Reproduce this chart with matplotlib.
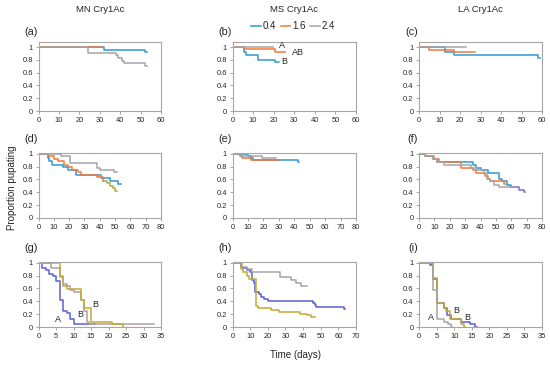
import matplotlib
matplotlib.use("Agg")
import matplotlib.pyplot as plt
from matplotlib.lines import Line2D

plt.rcParams['font.family'] = ['Liberation Sans', 'DejaVu Sans']

# ---------------- data ----------------
col_titles = ["MN Cry1Ac", "MS Cry1Ac", "LA Cry1Ac"]
panel_letters = ["(a)", "(b)", "(c)", "(d)", "(e)", "(f)", "(g)", "(h)", "(i)"]
doses = ["0.4", "1.6", "2.4"]
xmax = [60, 60, 60, 80, 80, 80, 35, 70, 35]
xstep = [10, 10, 10, 10, 10, 10, 5, 10, 5]
yticks = [0, 0.2, 0.4, 0.6, 0.8, 1.0]
ytick_labels = ["0", "0.2", "0.4", "0.6", "0.8", "1"]

# (a)
a04_t = [0, 32, 52]; a04_s = [1, 0.96, 0.93]; a04_end = 53
a16_t = [0]; a16_s = [1]; a16_end = 31
a24_t = [0, 24, 38, 39, 41, 42, 52]; a24_s = [1, 0.91, 0.87, 0.83, 0.79, 0.75, 0.71]; a24_end = 53
# (b)
b04_t = [0, 5.7, 6.8, 12.5, 20.6]; b04_s = [1, 0.93, 0.87, 0.80, 0.77]; b04_end = 22.5
b16_t = [0, 5.7, 20.6]; b16_s = [1, 0.97, 0.93]; b16_end = 25.5
b24_t = [0]; b24_s = [1]; b24_end = 19.5
b_labels = ["A", "AB", "B"]; b_lx = [23.8, 31.6, 25.3]; b_ly = [1.03, 0.92, 0.77]
# (c)
c04_t = [0, 12.8, 17, 58]; c04_s = [1, 0.92, 0.88, 0.83]; c04_end = 59.2
c16_t = [0, 5, 17]; c16_s = [1, 0.96, 0.92]; c16_end = 27.5
c24_t = [0]; c24_s = [1]; c24_end = 23
# (d)
d04_t = [0, 6, 7, 8.6, 16, 19, 24.3, 41, 47, 52]
d04_s = [1, 0.93, 0.88, 0.83, 0.79, 0.75, 0.67, 0.62, 0.57, 0.53]; d04_end = 54
d16_t = [0, 6, 10.4, 13, 16.5, 19, 22, 26, 28, 38, 42, 45, 47, 48.5, 50]
d16_s = [1, 0.96, 0.92, 0.88, 0.83, 0.79, 0.75, 0.71, 0.67, 0.63, 0.58, 0.54, 0.50, 0.46, 0.42]
d16_end = 51; d16_tail = 10
d24_t = [0, 14.4, 20.3, 38, 40, 49]; d24_s = [1, 0.96, 0.86, 0.78, 0.74, 0.71]; d24_end = 51
# (e)
e04_t = [0, 10, 12, 13, 42.5]; e04_s = [1, 0.96, 0.93, 0.90, 0.87]; e04_end = 43
e16_t = [0, 5, 6, 12]; e16_s = [1, 0.96, 0.93, 0.90]; e16_end = 30
e24_t = [0, 5, 19]; e24_s = [1, 0.97, 0.93]; e24_end = 28
# (f)
f04_t = [0, 4, 9, 12, 35, 37, 40, 45, 52, 54, 57, 60, 65, 68]
f04_s = [1, 0.96, 0.92, 0.87, 0.83, 0.78, 0.74, 0.70, 0.61, 0.57, 0.52, 0.48, 0.44, 0.40]
f04_end = 69; f04_tail = 11
f16_t = [0, 4, 10, 13, 27, 35, 37, 43, 45, 46, 55]
f16_s = [1, 0.96, 0.91, 0.87, 0.78, 0.74, 0.70, 0.65, 0.61, 0.57, 0.53]; f16_end = 56
f24_t = [0, 4, 9, 12, 16, 34, 38, 42, 44, 46, 49, 52]
f24_s = [1, 0.96, 0.91, 0.87, 0.82, 0.78, 0.74, 0.70, 0.61, 0.57, 0.52, 0.48]; f24_end = 60
# (g)
g04_t = [0, 1, 2, 3, 4, 5, 6, 7, 8, 9, 10]
g04_s = [1, 0.92, 0.88, 0.83, 0.79, 0.71, 0.42, 0.25, 0.21, 0.12, 0.04]; g04_end = 16
g16_t = [0, 6, 7, 8, 12, 13, 15, 21, 24]
g16_s = [1, 0.79, 0.63, 0.59, 0.42, 0.29, 0.08, 0.04, 0.0]; g16_end = 24
g24_t = [0, 3.7, 6, 7, 8, 9, 10, 12, 13, 13.8, 14.5]
g24_s = [1, 0.92, 0.78, 0.67, 0.63, 0.58, 0.55, 0.42, 0.25, 0.08, 0.04]; g24_end = 33
g_labels = ["A", "B", "B"]; g_lx = [5.6, 11.9, 16.2]; g_ly = [0.12, 0.20, 0.35]
# (h)
h04_t = [0, 5, 6, 8, 10, 11, 12, 13, 15, 16, 18, 20, 45.6, 46.5, 47.5, 63]
h04_s = [1, 0.93, 0.91, 0.89, 0.86, 0.73, 0.69, 0.55, 0.51, 0.46, 0.43, 0.41, 0.38, 0.34, 0.31, 0.28]
h04_end = 64
h16_t = [0, 5, 6, 8, 9.5, 13.3, 14.3, 22, 26.6, 38, 42, 44.7]
h16_s = [1, 0.90, 0.85, 0.80, 0.74, 0.33, 0.29, 0.26, 0.23, 0.20, 0.18, 0.16]; h16_end = 46.6
h24_t = [0, 5.5, 8, 11, 27, 33, 36, 39]
h24_s = [1, 0.93, 0.90, 0.86, 0.78, 0.73, 0.68, 0.63]; h24_end = 42
# (i)
i04_t = [0, 3.2, 4, 5, 7, 8, 9, 12, 14.6, 16]
i04_s = [1, 0.96, 0.75, 0.38, 0.29, 0.19, 0.12, 0.08, 0.04, 0.0]; i04_end = 16.5
i16_t = [0, 4.1, 5, 7, 7.7, 8.7, 12, 12.9]
i16_s = [1, 0.76, 0.38, 0.29, 0.25, 0.12, 0.04, 0.0]; i16_end = 13.2
i24_t = [0, 4, 5, 7, 8.3, 9]
i24_s = [1, 0.58, 0.12, 0.08, 0.04, 0.0]; i24_end = 9.3
i_labels = ["A", "B", "B"]; i_lx = [3.4, 10.5, 13.8]; i_ly = [0.14, 0.25, 0.14]

# ---------------- style ----------------
C_BLUE = "#2E9AD2"; C_ORANGE = "#F4763C"; C_GRAY = "#A5A5A5"
C_PURPLE = "#5A61D2"; C_OLIVE = "#C4A933"; C_MAUVE = "#B09CAA"
C_OLIVE_TAIL = "#B0AE36"; C_PURPLE_TAIL = "#7672C8"
SPINE = "#A6A6A6"; TXT = "#262626"

W, H = 550, 366
fig = plt.figure(figsize=(W / 100, H / 100), dpi=100)

col_px = [(38.5, 161), (232.5, 356), (419, 542)]
row_px = [(42, 111), (153, 218), (262, 327)]

def make_ax(r, c):
    l, rr = col_px[c]
    t, b = row_px[r]
    return fig.add_axes([l / W, 1 - b / H, (rr - l) / W, (b - t) / H])

def draw(ax, t, s, end, color, tail=None, tail_color=None, lw=1.1, z=2):
    x = list(t) + [end]
    y = list(s) + [s[-1]]
    if tail is None:
        ax.step(x, y, where="post", color=color, lw=lw, zorder=z)
    else:
        ax.step(x[:tail + 1], y[:tail + 1], where="post", color=color, lw=lw, zorder=z)
        ax.step(x[tail:], y[tail:], where="post", color=tail_color, lw=lw, zorder=z)

curves = [
    [(a04_t, a04_s, a04_end, C_BLUE), (a16_t, a16_s, a16_end, C_ORANGE), (a24_t, a24_s, a24_end, C_GRAY)],
    [(b04_t, b04_s, b04_end, C_BLUE), (b16_t, b16_s, b16_end, C_ORANGE), (b24_t, b24_s, b24_end, C_GRAY)],
    [(c04_t, c04_s, c04_end, C_BLUE), (c16_t, c16_s, c16_end, C_ORANGE), (c24_t, c24_s, c24_end, C_GRAY)],
    [(d04_t, d04_s, d04_end, C_BLUE), (d16_t, d16_s, d16_end, C_ORANGE, d16_tail, C_OLIVE_TAIL), (d24_t, d24_s, d24_end, C_GRAY)],
    [(e04_t, e04_s, e04_end, C_BLUE), (e16_t, e16_s, e16_end, C_ORANGE), (e24_t, e24_s, e24_end, C_GRAY)],
    [(f04_t, f04_s, f04_end, C_BLUE, f04_tail, C_PURPLE_TAIL), (f16_t, f16_s, f16_end, C_ORANGE), (f24_t, f24_s, f24_end, C_GRAY)],
    [(g04_t, g04_s, g04_end, C_PURPLE), (g24_t, g24_s, g24_end, C_MAUVE), (g16_t, g16_s, g16_end, C_OLIVE)],
    [(h04_t, h04_s, h04_end, C_PURPLE), (h16_t, h16_s, h16_end, C_OLIVE), (h24_t, h24_s, h24_end, C_GRAY)],
    [(i04_t, i04_s, i04_end, C_PURPLE), (i16_t, i16_s, i16_end, C_OLIVE), (i24_t, i24_s, i24_end, C_GRAY)],
]
letters = {1: (b_labels, b_lx, b_ly), 6: (g_labels, g_lx, g_ly), 8: (i_labels, i_lx, i_ly)}

for k in range(9):
    r, c = divmod(k, 3)
    ax = make_ax(r, c)
    for cv in curves[k]:
        if len(cv) == 6:
            draw(ax, cv[0], cv[1], cv[2], cv[3], tail=cv[4], tail_color=cv[5])
        else:
            draw(ax, cv[0], cv[1], cv[2], cv[3])
    ax.set_xlim(0, xmax[k])
    ax.set_ylim(0, 1.08 if r == 0 else 1.01)
    ax.set_xticks(list(range(0, xmax[k] + 1, xstep[k])))
    ax.set_yticks(yticks)
    ax.set_yticklabels(ytick_labels)
    for sp in ax.spines.values():
        sp.set_color(SPINE)
        sp.set_linewidth(0.8)
    ax.tick_params(axis="both", labelsize=5.4, colors=SPINE, labelcolor=TXT,
                   length=2.5, width=0.7, direction="out", pad=1.5)
    if k in letters:
        labs, lx, ly = letters[k]
        for s_, x_, y_ in zip(labs, lx, ly):
            ax.text(x_, y_, s_, fontsize=6.5, color=TXT, ha="center", va="center")
    # panel letter
    l, _ = col_px[c]
    top, _ = row_px[r]
    off = 10 if r == 0 else 14
    fig.text((l - 1) / W, 1 - (top - off) / H, panel_letters[k], fontsize=7.8,
             color=TXT, ha="right", va="center")

# column titles
for c in range(3):
    l, rr = col_px[c]
    fig.text((l + rr) / 2 / W, 1 - 10 / H, col_titles[c], fontsize=6.8, color=TXT,
             ha="center", va="center")

# legend
handles = [Line2D([], [], color=col, lw=1.1) for col in (C_BLUE, C_ORANGE, C_GRAY)]
fig.legend(handles, doses, loc="center", bbox_to_anchor=(293 / W, 1 - 26 / H),
           ncol=3, frameon=False, fontsize=7, handlelength=1.0, handletextpad=0.15,
           columnspacing=0.5, labelcolor=TXT, borderpad=0)

fig.text(12 / W, 1 - 188 / H, "Proportion pupating", rotation=90, fontsize=7,
         color=TXT, ha="center", va="center")
fig.text(295 / W, 1 - 355 / H, "Time (days)", fontsize=7, color=TXT,
         ha="center", va="center")

fig.savefig("out.png", dpi=100)
